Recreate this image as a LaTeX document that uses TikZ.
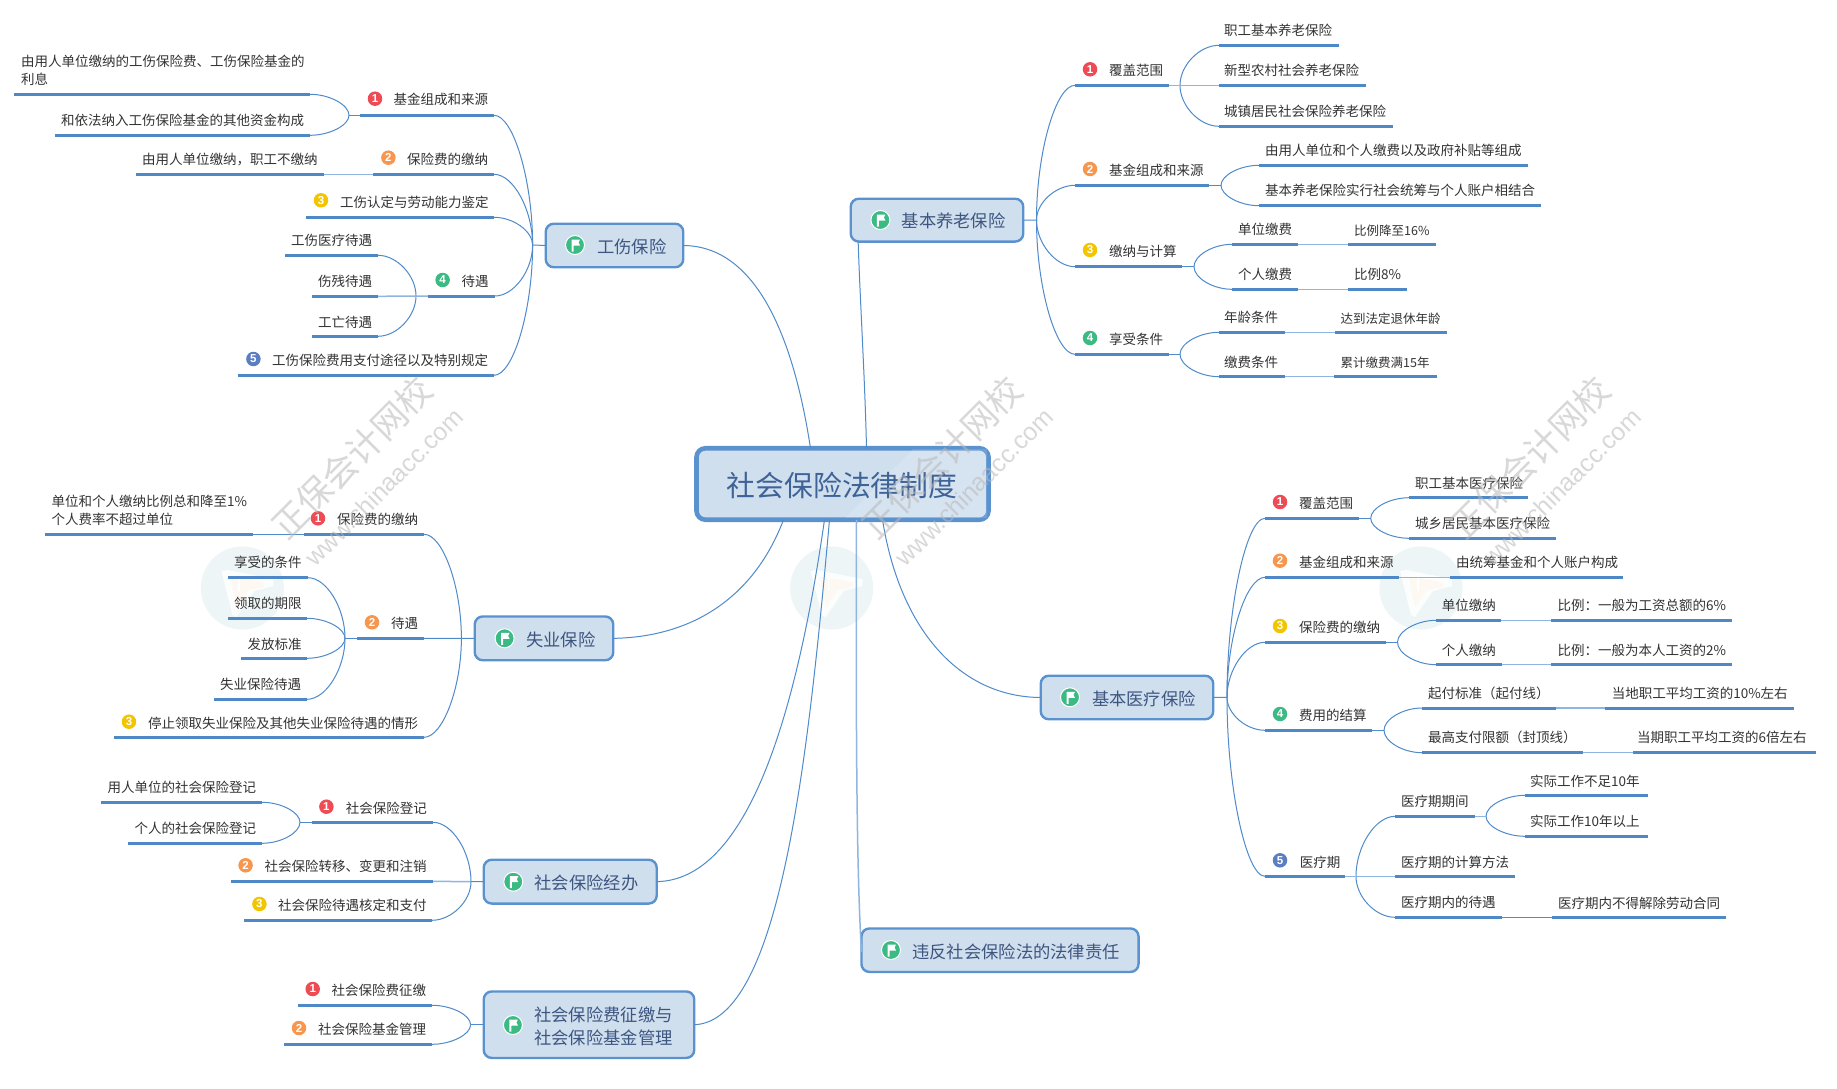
\documentclass[tikz,border=0pt]{standalone}
\usepackage{fontspec}
\setmainfont{Noto Sans CJK SC}
\newfontfamily\latinf{Liberation Sans}
\usetikzlibrary{calc}
\definecolor{lineblue}{HTML}{4F8ACB}
\definecolor{rulec}{HTML}{4E88C7}
\definecolor{flatc}{HTML}{8FB6E0}
\definecolor{boxfill}{HTML}{D0DFEE}
\definecolor{boxedge}{HTML}{5A92CF}
\definecolor{maintext}{HTML}{3D5680}
\definecolor{roottext}{HTML}{3E6397}
\definecolor{leaftext}{HTML}{333333}
\definecolor{bred}{HTML}{EE4B55}
\definecolor{borange}{HTML}{F6964F}
\definecolor{byellow}{HTML}{F2C500}
\definecolor{bgreen}{HTML}{3BBA83}
\definecolor{bblue}{HTML}{5B7DC2}
\definecolor{logobg}{HTML}{EDF5F7}
\tikzset{
  link/.style={draw=lineblue,line width=1pt},
  flat/.style={draw=flatc,line width=1.5pt},
  rulebar/.style={fill=rulec,inner sep=0pt,outer sep=0pt,minimum height=3pt},
  leaf/.style={text=leaftext,inner sep=0pt,anchor=west,align=left,yshift=-0.7pt,font=\fontsize{13.5}{18}\selectfont},
  mainbox/.style={draw=boxedge,fill=boxfill,line width=2.4pt,rounded corners=8pt,inner sep=0pt,outer sep=0pt},
  maintxt/.style={text=maintext,inner sep=0pt,anchor=west,align=left,yshift=-0.7pt,font=\fontsize{17.3}{23}\selectfont},
  badgec/.style={circle,fill=#1,inner sep=0pt,outer sep=0pt,minimum size=14.5pt,text=white,font=\latinf\bfseries\fontsize{11.5}{12}\selectfont},
  flagc/.style={circle,fill=bgreen,draw=white,line width=1pt,inner sep=0pt,outer sep=0pt,minimum size=19pt},
  wmark/.style={text=black!28,text opacity=0.55,inner sep=0pt,rotate=45},
}
\newcommand{\smalltx}[1]{{\fontsize{12.5}{16}\selectfont #1}}
% name, x left, x right, y, text x, text y, text
\newcommand{\tp}[7]{%
  \pgfmathsetmacro{\rw}{#3-#2}%
  \pgfmathsetmacro{\rc}{(#3+#2)/2}%
  \node[rulebar,minimum width=\rw pt] (#1) at (\rc,#4) {};
  \node[leaf] (#1-t) at (#5,#6) {#7};
}
% name, colour, digit, x, y
\newcommand{\badge}[5]{\node[badgec=#2] (#1) at (#4,#5) {#3};}
% name, x, y
\newcommand{\flagicon}[3]{%
  \node[flagc] (#1) at (#2,#3) {};
  \fill[white] ([shift={(-3.5pt,-6.5pt)}]#1.center) -- ++(2pt,0) -- ++(0,6pt) -- ++(6.5pt,0) -- ++(-1.5pt,3pt) -- ++(1.5pt,3pt) -- ++(-8.5pt,0) -- cycle;
}
% name, x1, y1, x2, y2
\newcommand{\mainb}[5]{%
  \pgfmathsetmacro{\rw}{#4-#2-1.5}%
  \pgfmathsetmacro{\rh}{#5-#3-1.5}%
  \pgfmathsetmacro{\rc}{(#4+#2)/2}%
  \pgfmathsetmacro{\rd}{(#5+#3)/2}%
  \node[mainbox,minimum width=\rw pt,minimum height=\rh pt] (#1) at (\rc,\rd) {};
}
\newcommand{\bend}[2]{\draw[link] (#1) .. controls ($(#1)!.5!(#2 |- #1)$) and ($(#2)!.5!(#2 |- #1)$) .. (#2);}
\begin{document}
\begin{tikzpicture}[x=1pt,y=-1pt]
\useasboundingbox (0,0) rectangle (1837,1089);
\fill[white] (0,0) rectangle (1837,1089);

% faint logos
\foreach \i/\cx in {1/242.4,2/831.7,3/1421}{
  \node[circle,fill=logobg,minimum size=83pt,inner sep=0pt] (logo\i) at (\cx,588) {};
  \fill[white,opacity=.85] ([shift={(-21pt,17pt)}]logo\i.center) -- ++(6pt,1pt) -- ++(46pt,-9pt) -- ++(0,-7pt) -- ++(-19pt,-5pt) -- ++(-18pt,-26pt) -- ++(-4pt,2pt) -- cycle;
  \fill[orange!6,opacity=.7] ([shift={(-12pt,11pt)}]logo\i.center) -- ++(22pt,-3pt) -- ++(12pt,-3pt) -- ++(0,-4pt) -- ++(-16pt,-3pt) -- ++(-12pt,-17pt) -- cycle;
  \fill[white] ([shift={(-4pt,13pt)}]logo\i.center) rectangle ++(1.5pt,-16pt);
}

% ---------- root ----------
\node[draw=boxedge,fill=boxfill,line width=4.6pt,rounded corners=9pt,minimum width=292pt,minimum height=71.5pt,inner sep=0pt,outer sep=0pt] (root) at (842.5,484) {};
\fill[white,opacity=.13] (845,518) -- (913,449) -- (987,449) -- (987,518) -- cycle;
\node[text=roottext,inner sep=0pt,font=\fontsize{28.8}{32}\selectfont] (root-t) at (842,485.5) {社会保险法律制度};

% ---------- main topics ----------
\mainb{gs}{545}{223}{684}{268}
\flagicon{gs-i}{575}{245}
\node[maintxt] (gs-t) at (597,246) {工伤保险};

\mainb{yl}{850}{198}{1024}{242.3}
\flagicon{yl-i}{880.4}{220}
\node[maintxt] (yl-t) at (901.5,220.7) {基本养老保险};

\mainb{sy}{474}{615.7}{614}{661}
\flagicon{sy-i}{504.6}{638.3}
\node[maintxt] (sy-t) at (526,639) {失业保险};

\mainb{jb}{483}{859}{657.5}{904.3}
\flagicon{jb-i}{513.3}{881.7}
\node[maintxt] (jb-t) at (534.4,882.3) {社会保险经办};

\mainb{zj}{483}{990.7}{695}{1058.7}
\flagicon{zj-i}{512.9}{1025}
\node[maintxt] (zj-t) at (534,1025.8) {社会保险费征缴与\\社会保险基金管理};

\mainb{wf}{860.7}{927.7}{1139.3}{972.7}
\flagicon{wf-i}{891}{950}
\node[maintxt] (wf-t) at (912,950.7) {违反社会保险法的法律责任};

\mainb{yb}{1040}{675}{1214}{720}
\flagicon{yb-i}{1070}{697.3}
\node[maintxt] (yb-t) at (1091.8,698.3) {基本医疗保险};

% ---------- root connectors ----------
\draw[link] (gs.east) .. controls (765,246) and (797,360) .. ([xshift=114pt]root.north west);
\draw[link] (yl.south west) ++(7.4pt,0) coordinate (yl-b) .. controls (860,300) and (865,380) .. ([xshift=170pt]root.north west);
\draw[link] (sy.east) .. controls (695,637) and (755,595) .. ([xshift=87pt]root.south west);
\draw[link] (jb.east) .. controls (745,880) and (795,725) .. ([xshift=128pt]root.south west);
\draw[link] (zj.east) .. controls (780,1022) and (808,760) .. ([xshift=133pt]root.south west);
\draw[flat] ([xshift=160pt]root.south west) .. controls (856,700) and (856,860) .. ([yshift=-2pt]wf.west);
\draw[link] ([xshift=186pt]root.south west) .. controls (900,630) and (960,697) .. (yb.west);

% ---------- 工伤保险 ----------
\coordinate (gs-j) at (532.6,245);
\draw[link] (gs-j) -- (gs.west);
\tp{gs1}{360}{494}{115.3}{393.5}{99}{基金组成和来源}
\badge{gs1-i}{bred}{1}{375}{98.7}
\tp{gs11}{14}{310}{94.3}{21}{70}{由用人单位缴纳的工伤保险费、工伤保险基金的\\利息}
\tp{gs12}{55}{310}{135.3}{61}{120}{和依法纳入工伤保险基金的其他资金构成}
\coordinate (gs1-j) at (349,115.3);
\bend{gs11.east}{gs1-j}
\bend{gs12.east}{gs1-j}
\draw[link] (gs1-j) -- (gs1.west);
\tp{gs2}{373}{494}{174.3}{407}{158.7}{保险费的缴纳}
\badge{gs2-i}{borange}{2}{388.4}{157.7}
\tp{gs21}{136}{324}{174.3}{142}{158.7}{由用人单位缴纳，职工不缴纳}
\draw[flat] (gs21.east) -- (gs2.west);
\tp{gs3}{306}{494}{217.3}{340}{201.3}{工伤认定与劳动能力鉴定}
\badge{gs3-i}{byellow}{3}{321}{200.3}
\tp{gs4}{428}{495}{296}{461.4}{280.7}{待遇}
\badge{gs4-i}{bgreen}{4}{442.6}{280}
\tp{gs41}{285}{378}{255.3}{291}{240}{工伤医疗待遇}
\tp{gs42}{312}{378}{296.3}{318}{280.7}{伤残待遇}
\tp{gs43}{312}{378}{336.3}{318}{321.3}{工亡待遇}
\coordinate (gs4-j) at (416,296);
\bend{gs41.east}{gs4-j}
\bend{gs43.east}{gs4-j}
\draw[flat] (gs42.east) -- (gs4.west);
\tp{gs5}{238}{494}{375.3}{272}{359.7}{工伤保险费用支付途径以及特别规定}
\badge{gs5-i}{bblue}{5}{253.4}{359}
\bend{gs1.east}{gs-j}
\bend{gs2.east}{gs-j}
\bend{gs3.east}{gs-j}
\bend{gs4.east}{gs-j}
\bend{gs5.east}{gs-j}

% ---------- 基本养老保险 ----------
\coordinate (yl-j) at (1036.5,220);
\draw[link] (yl.east) -- (yl-j);
\tp{yl1}{1075}{1169}{85.3}{1109}{70}{覆盖范围}
\badge{yl1-i}{bred}{1}{1090}{69.3}
\tp{yl11}{1219}{1339}{45.3}{1224}{30}{职工基本养老保险}
\tp{yl12}{1219}{1366}{85.3}{1224}{70}{新型农村社会养老保险}
\tp{yl13}{1219}{1393}{126.3}{1224}{110.7}{城镇居民社会保险养老保险}
\coordinate (yl1-j) at (1180,85.3);
\bend{yl11.west}{yl1-j}
\bend{yl13.west}{yl1-j}
\draw[flat] (yl1.east) -- (yl12.west);
\tp{yl2}{1075}{1209}{185.3}{1109}{169.7}{基金组成和来源}
\badge{yl2-i}{borange}{2}{1090}{169}
\tp{yl21}{1259}{1528}{165.3}{1265}{149.7}{由用人单位和个人缴费以及政府补贴等组成}
\tp{yl22}{1259}{1541}{205.7}{1265}{190}{基本养老保险实行社会统筹与个人账户相结合}
\coordinate (yl2-j) at (1221,185.3);
\bend{yl21.west}{yl2-j}
\bend{yl22.west}{yl2-j}
\draw[link] (yl2.east) -- (yl2-j);
\tp{yl3}{1075}{1182}{266.7}{1109}{250.7}{缴纳与计算}
\badge{yl3-i}{byellow}{3}{1090}{250}
\tp{yl31}{1232}{1298}{244.3}{1238}{228.7}{单位缴费}
\tp{yl311}{1348}{1436}{244.3}{1354}{229.7}{\smalltx{比例降至16\%}}
\tp{yl32}{1232}{1298}{289.3}{1238}{273.7}{个人缴费}
\tp{yl321}{1348}{1407}{289.3}{1354}{273.7}{比例8\%}
\coordinate (yl3-j) at (1194,266.7);
\bend{yl31.west}{yl3-j}
\bend{yl32.west}{yl3-j}
\draw[link] (yl3.east) -- (yl3-j);
\draw[flat] (yl31.east) -- (yl311.west);
\draw[flat] (yl32.east) -- (yl321.west);
\tp{yl4}{1075}{1169}{354.3}{1109}{338.7}{享受条件}
\badge{yl4-i}{bgreen}{4}{1090}{338}
\tp{yl41}{1219}{1285}{332.3}{1224}{316.7}{年龄条件}
\tp{yl411}{1335}{1447}{332.3}{1340.5}{317.7}{\smalltx{达到法定退休年龄}}
\tp{yl42}{1219}{1285}{376.7}{1224}{361.3}{缴费条件}
\tp{yl421}{1334}{1437}{376.7}{1340.5}{362.3}{\smalltx{累计缴费满15年}}
\coordinate (yl4-j) at (1180,354.3);
\bend{yl41.west}{yl4-j}
\bend{yl42.west}{yl4-j}
\draw[link] (yl4.east) -- (yl4-j);
\draw[flat] (yl41.east) -- (yl411.west);
\draw[flat] (yl42.east) -- (yl421.west);
\bend{yl1.west}{yl-j}
\bend{yl2.west}{yl-j}
\bend{yl3.west}{yl-j}
\bend{yl4.west}{yl-j}

% ---------- 失业保险 ----------
\coordinate (sy-j) at (461.4,638.3);
\tp{sy1}{304}{424}{534.3}{337}{519}{保险费的缴纳}
\badge{sy1-i}{bred}{1}{318}{518.3}
\tp{sy11}{45}{253}{534.3}{51.4}{510}{单位和个人缴纳比例总和降至1\%\\个人费率不超过单位}
\draw[link] (sy11.east) -- (sy1.west);
\tp{sy2}{357}{424}{638.3}{391}{623}{待遇}
\badge{sy2-i}{borange}{2}{372}{622.3}
\draw[link] (sy2.east) -- (sy.west);
\tp{sy21}{228}{308}{577.7}{234}{562}{享受的条件}
\tp{sy22}{228}{307}{618.3}{234}{602.7}{领取的期限}
\tp{sy23}{241}{307}{658.3}{247.5}{643.3}{发放标准}
\tp{sy24}{214}{307}{699.3}{220}{684}{失业保险待遇}
\coordinate (sy2-j) at (345,638.3);
\bend{sy21.east}{sy2-j}
\bend{sy22.east}{sy2-j}
\bend{sy23.east}{sy2-j}
\bend{sy24.east}{sy2-j}
\draw[link] (sy2-j) -- (sy2.west);
\tp{sy3}{114}{424}{737.3}{148}{722.7}{停止领取失业保险及其他失业保险待遇的情形}
\badge{sy3-i}{byellow}{3}{129}{721.7}
\bend{sy1.east}{sy-j}
\bend{sy3.east}{sy-j}

% ---------- 社会保险经办 ----------
\coordinate (jb-j) at (471,881.7);
\draw[link] (jb-j) -- (jb.west);
\tp{jb1}{312}{433}{822.3}{345.7}{807.3}{社会保险登记}
\badge{jb1-i}{bred}{1}{326.4}{806.7}
\tp{jb11}{101}{262}{802.3}{107.4}{787}{用人单位的社会保险登记}
\tp{jb12}{128}{262}{843.3}{134.5}{827.7}{个人的社会保险登记}
\coordinate (jb1-j) at (300,822.3);
\bend{jb11.east}{jb1-j}
\bend{jb12.east}{jb1-j}
\draw[link] (jb1-j) -- (jb1.west);
\tp{jb2}{231}{433}{881.3}{264.5}{866}{社会保险转移、变更和注销}
\badge{jb2-i}{borange}{2}{245.6}{865.3}
\tp{jb3}{244}{432}{920.3}{277.8}{904.7}{社会保险待遇核定和支付}
\badge{jb3-i}{byellow}{3}{259.4}{904}
\bend{jb1.east}{jb-j}
\draw[flat] (jb2.east) -- (jb-j);
\bend{jb3.east}{jb-j}

% ---------- 社会保险费征缴 ----------
\coordinate (zj-j) at (470.6,1024.7);
\draw[link] (zj-j) -- (zj.west);
\tp{zj1}{298}{432}{1005.3}{331.5}{989.7}{社会保险费征缴}
\badge{zj1-i}{bred}{1}{312.7}{989}
\tp{zj2}{284}{432}{1044.3}{318}{1028.7}{社会保险基金管理}
\badge{zj2-i}{borange}{2}{299}{1028}
\bend{zj1.east}{zj-j}
\bend{zj2.east}{zj-j}

% ---------- 基本医疗保险 ----------
\coordinate (yb-j) at (1227,697.3);
\draw[link] (yb.east) -- (yb-j);
\tp{yb1}{1265}{1359}{518.3}{1299}{502.7}{覆盖范围}
\badge{yb1-i}{bred}{1}{1280}{502}
\tp{yb11}{1409}{1528}{497.7}{1415}{482.3}{职工基本医疗保险}
\tp{yb12}{1409}{1555.5}{538.3}{1415}{523}{城乡居民基本医疗保险}
\coordinate (yb1-j) at (1370.7,518.3);
\bend{yb11.west}{yb1-j}
\bend{yb12.west}{yb1-j}
\draw[link] (yb1.east) -- (yb1-j);
\tp{yb2}{1265}{1399}{577.3}{1299}{561.3}{基金组成和来源}
\badge{yb2-i}{borange}{2}{1280}{560.7}
\tp{yb21}{1450}{1623}{577.3}{1456}{561.7}{由统筹基金和个人账户构成}
\draw[flat] (yb2.east) -- (yb21.west);
\tp{yb3}{1265}{1386}{642.3}{1299}{626.7}{保险费的缴纳}
\badge{yb3-i}{byellow}{3}{1280}{626}
\tp{yb31}{1436}{1501}{620.3}{1441.7}{604.3}{单位缴纳}
\tp{yb311}{1551}{1732}{620.3}{1557.5}{604.3}{比例：一般为工资总额的6\%}
\tp{yb32}{1436}{1502}{664.7}{1441.7}{649.3}{个人缴纳}
\tp{yb321}{1551}{1732}{664.7}{1557.5}{649.3}{比例：一般为本人工资的2\%}
\coordinate (yb3-j) at (1397.5,642.3);
\bend{yb31.west}{yb3-j}
\bend{yb32.west}{yb3-j}
\draw[link] (yb3.east) -- (yb3-j);
\draw[flat] (yb31.east) -- (yb311.west);
\draw[flat] (yb32.east) -- (yb321.west);
\tp{yb4}{1265}{1372}{730.3}{1299}{714.7}{费用的结算}
\badge{yb4-i}{bgreen}{4}{1280}{714}
\tp{yb41}{1422}{1556}{708}{1428}{692.3}{起付标准（起付线）}
\tp{yb411}{1605}{1794}{708}{1611.6}{692.3}{当地职工平均工资的10\%左右}
\tp{yb42}{1422}{1583}{752.7}{1428}{737}{最高支付限额（封顶线）}
\tp{yb421}{1633}{1816}{752.7}{1637}{737}{当期职工平均工资的6倍左右}
\coordinate (yb4-j) at (1384,730.3);
\bend{yb41.west}{yb4-j}
\bend{yb42.west}{yb4-j}
\draw[link] (yb4.east) -- (yb4-j);
\draw[flat] (yb41.east) -- (yb411.west);
\draw[flat] (yb42.east) -- (yb421.west);
\tp{yb5}{1265}{1345}{876.3}{1299.7}{861.7}{医疗期}
\badge{yb5-i}{bblue}{5}{1280}{860.3}
\tp{yb51}{1395}{1475}{816.3}{1401}{800.7}{医疗期期间}
\tp{yb511}{1525}{1648}{795.3}{1530}{780.3}{实际工作不足10年}
\tp{yb512}{1525}{1648}{836.3}{1530}{821}{实际工作10年以上}
\coordinate (yb51-j) at (1486,816.3);
\bend{yb511.west}{yb51-j}
\bend{yb512.west}{yb51-j}
\draw[flat] (yb51.east) -- (yb51-j);
\tp{yb52}{1395}{1515}{876.3}{1401}{862}{医疗期的计算方法}
\tp{yb53}{1395}{1502}{917.3}{1401}{902}{医疗期内的待遇}
\tp{yb531}{1552}{1726}{917.3}{1558}{902.3}{医疗期内不得解除劳动合同}
\draw[link] (yb53.east) -- (yb531.west);
\coordinate (yb5-j) at (1356,876.3);
\bend{yb51.west}{yb5-j}
\bend{yb53.west}{yb5-j}
\draw[flat] (yb5.east) -- (yb52.west);
\bend{yb1.west}{yb-j}
\bend{yb2.west}{yb-j}
\bend{yb3.west}{yb-j}
\bend{yb4.west}{yb-j}
\bend{yb5.west}{yb-j}

% ---------- watermarks ----------
\foreach \i/\dx in {1/0,2/590,3/1178}{
  \node[wmark,font=\fontsize{35}{38}\selectfont] (wm\i) at (352+\dx,458) {正保会计网校};
  \node[wmark,font=\latinf\fontsize{24.8}{28}\selectfont] (wn\i) at (384+\dx,487) {www.chinaacc.com};
}
\end{tikzpicture}
\end{document}
